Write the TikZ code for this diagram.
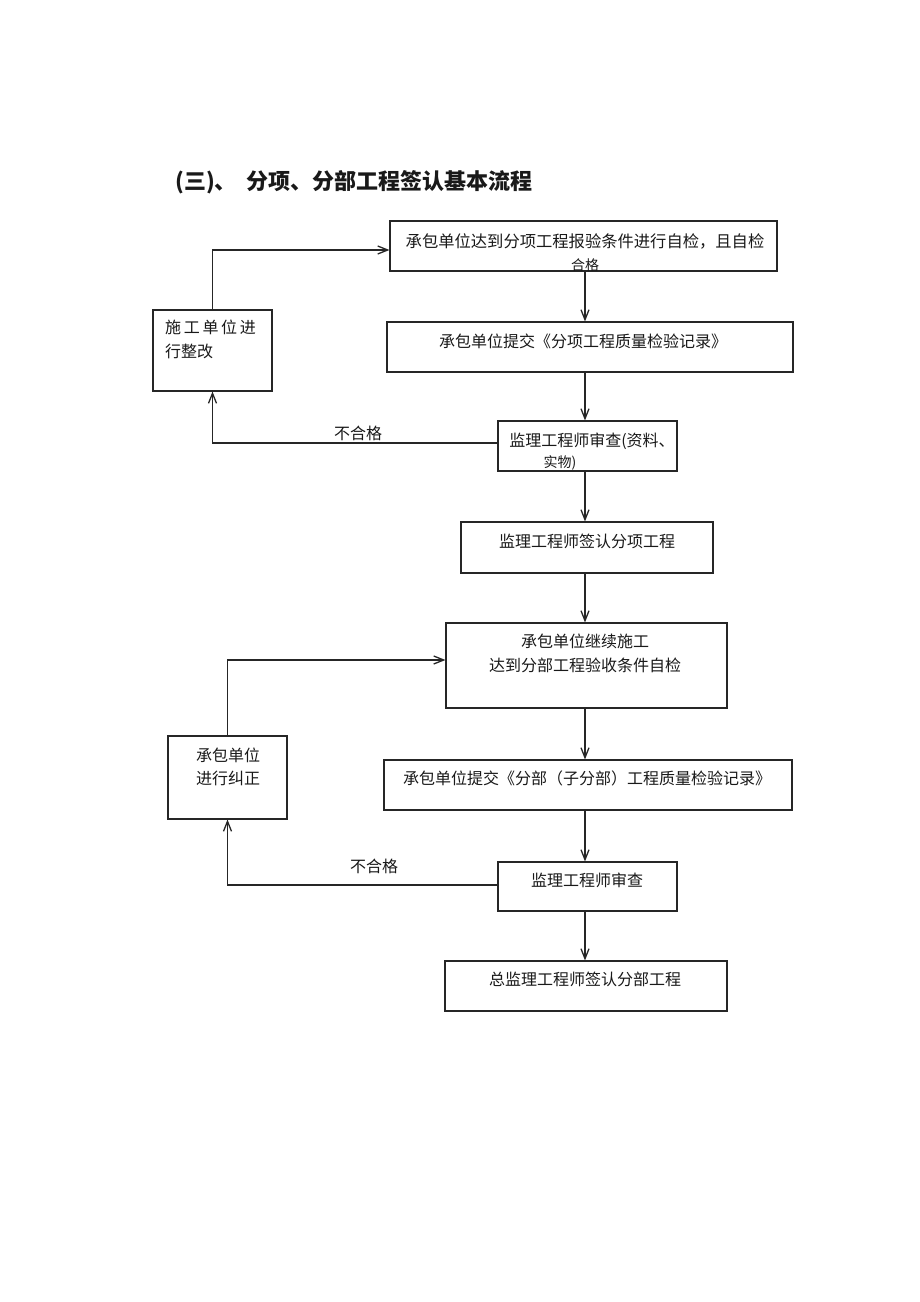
\documentclass[tikz,border=0pt]{standalone}
\usepackage{fontspec}
\setmainfont{Noto Sans CJK SC}
\usetikzlibrary{arrows.meta}
\begin{document}
\begin{tikzpicture}[x=1pt,y=-1pt,
  box/.style={draw=black!85,line width=1.1pt,inner sep=0pt},
  txt/.style={font=\fontsize{16}{22}\selectfont,inner sep=0pt,text=black!90},
  arr/.style={draw=black!85,line width=1.1pt,-{Straight Barb[length=10pt,width=8pt,line width=1.3pt]}},
  ln/.style={draw=black!85,line width=1.1pt}]
\useasboundingbox[fill=white] (0,0) rectangle (920,1302);
% title
\node[txt,anchor=west,font=\fontsize{22}{26}\selectfont\bfseries] (title) at (175,182) {(三)、\ \ 分项、分部工程签认基本流程};
% main boxes
\node[box,minimum width=387pt,minimum height=50pt] (A) at (583.5,246) {};
\node[box,minimum width=406pt,minimum height=50pt] (B) at (590,347) {};
\node[box,minimum width=179pt,minimum height=50pt] (C) at (587.5,446) {};
\node[box,minimum width=252pt,minimum height=51pt] (D) at (587,547.5) {};
\node[box,minimum width=281pt,minimum height=85pt] (E) at (586.5,665.5) {};
\node[box,minimum width=408pt,minimum height=50pt] (F) at (588,785) {};
\node[box,minimum width=179pt,minimum height=49pt] (G) at (587.5,886.5) {};
\node[box,minimum width=282pt,minimum height=50pt] (H) at (586,986) {};
\node[box,minimum width=119pt,minimum height=81pt] (L1) at (212.5,350.5) {};
\node[box,minimum width=119pt,minimum height=83pt] (L2) at (227.5,777.5) {};
% texts
\node[txt,font=\fontsize{16.3}{22}\selectfont] (tA1) at (585,241) {承包单位达到分项工程报验条件进行自检，且自检};
\begin{scope}
\clip ([xshift=1pt,yshift=1pt]A.south west) rectangle ([xshift=-1pt,yshift=-1pt]A.north east);
\node[txt,font=\fontsize{14}{16}\selectfont] (tA2) at (585,265) {合格};
\end{scope}
\node[txt] (tB) at (583,341) {承包单位提交《分项工程质量检验记录》};
\node[txt] (tC1) at (592,441) {监理工程师审查(资料、};
\node[txt,font=\fontsize{14}{16}\selectfont] (tC2) at (560,463) {实物)};
\node[txt] (tD) at (587,541) {监理工程师签认分项工程};
\node[txt] (tE1) at (585,641) {承包单位继续施工};
\node[txt] (tE2) at (585,665) {达到分部工程验收条件自检};
\node[txt] (tF) at (587,778) {承包单位提交《分部（子分部）工程质量检验记录》};
\node[txt] (tG) at (587,880) {监理工程师审查};
\node[txt] (tH) at (585,979) {总监理工程师签认分部工程};
\node[txt,anchor=west] (tL1a) at (165,327) {施\,工\,单\,位\,进};
\node[txt,anchor=west] (tL1b) at (165,351) {行整改};
\node[txt] (tL2a) at (228,755) {承包单位};
\node[txt] (tL2b) at (228,778) {进行纠正};
\node[txt] (n1) at (358,433) {不合格};
\node[txt] (n2) at (374,866) {不合格};
% connectors
\coordinate (X) at (585,0);
\draw[arr] (A.south -| X) -- (B.north -| X);
\draw[arr] (B.south -| X) -- (C.north -| X);
\draw[arr] (C.south -| X) -- (D.north -| X);
\draw[arr] (D.south -| X) -- (E.north -| X);
\draw[arr] (E.south -| X) -- (F.north -| X);
\draw[arr] (F.south -| X) -- (G.north -| X);
\draw[arr] (G.south -| X) -- (H.north -| X);
\draw[arr] ([yshift=3pt]C.west) -| (L1.south);
\draw[arr] (L1.north) |- ([yshift=-4pt]A.west);
\draw[arr] ([yshift=1.5pt]G.west) -| (L2.south);
\draw[arr] (L2.north) |- ([yshift=5.5pt]E.west);
\end{tikzpicture}
\end{document}
